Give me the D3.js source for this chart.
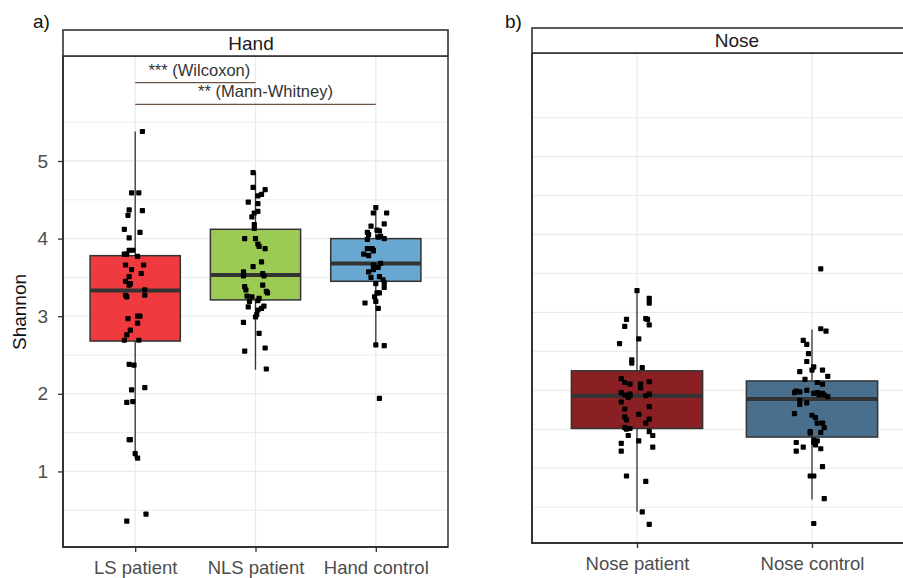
<!DOCTYPE html>
<html>
<head>
<meta charset="utf-8">
<script src="https://cdn.jsdelivr.net/npm/d3@7"></script>
<style>
  body { margin: 0; background: #fff; }
  svg text { font-family: "Liberation Sans", Arial, sans-serif; }
</style>
</head>
<body>
<div id="chart"></div>
<script>
// groups and box statistics: [lower whisker, q1, median, q3, upper whisker]
const handGroups = ["LS patient", "NLS patient", "Hand control"];
const noseGroups = ["Nose patient", "Nose control"];
const handStats = [
  [1.17, 2.68, 3.33, 3.78, 5.38],
  [2.31, 3.21, 3.53, 4.12, 4.86],
  [2.61, 3.45, 3.68, 4.00, 4.41]
];
const noseStats = [
  [0.44, 1.51, 1.93, 2.25, 3.29],
  [0.60, 1.40, 1.89, 2.12, 2.78]
];

// jittered points: [Shannon, jitter (fraction of category step)]
const lsPoints = [[5.38,.06],[4.59,-.03],[4.59,.03],[4.37,-.05],[4.30,-.06],[4.36,.06],[4.12,-.09],[4.01,-.05],
  [4.08,.04],[3.85,-.05],[3.85,-.02],[3.80,-.09],[3.80,-.07],[3.77,.02],[3.66,-.08],[3.66,.07],[3.60,-.03],
  [3.55,.05],[3.51,-.05],[3.45,-.08],[3.42,-.04],[3.40,-.05],[3.34,.08],[3.27,.08],[3.27,-.08],[3.25,-.07],
  [3.00,.02],[3.00,.04],[2.97,-.06],[2.91,.02],[2.82,-.04],[2.76,-.07],[2.69,-.09],[2.69,.03],[2.38,-.05],
  [2.37,-.01],[2.08,.08],[2.05,-.03],[1.89,-.07],[1.90,-.02],[1.41,-.05],[1.41,-.04],[1.23,0],[1.17,.02],
  [0.45,.09],[0.36,-.07]];
const nlsPoints = [[4.85,-.02],[4.66,-.02],[4.63,.08],[4.57,.05],[4.55,.02],[4.47,-.06],[4.45,.02],[4.35,.02],
  [4.33,-.01],[4.28,-.03],[4.18,-.01],[4.13,-.01],[4.00,-.09],[4.00,0],[3.93,.02],[3.90,.03],[3.87,.08],
  [3.70,.05],[3.64,-.02],[3.57,-.10],[3.52,-.10],[3.55,.06],[3.52,.07],[3.40,.06],[3.38,-.09],[3.34,-.08],
  [3.26,-.07],[3.25,-.03],[3.32,.09],[3.30,.10],[3.23,.03],[3.20,.02],[3.19,-.05],[3.12,-.06],[3.13,.07],
  [3.10,.05],[3.08,.02],[3.02,.01],[2.99,0],[2.92,-.10],[2.78,.03],[2.55,-.09],[2.59,.08],[2.32,.09]];
const handCtrlPoints = [[4.40,0],[4.33,.09],[4.33,-.02],[4.19,.07],[4.16,-.04],[4.11,.01],[4.10,.03],[4.08,-.07],
  [4.05,-.06],[4.03,.04],[4.00,.07],[3.99,-.07],[4.02,.02],[3.87,-.07],[3.87,-.03],[3.85,-.02],[3.80,-.10],
  [3.78,-.06],[3.84,-.02],[3.68,.04],[3.66,-.02],[3.63,.02],[3.57,-.06],[3.60,-.02],[3.51,.03],[3.50,-.04],
  [3.47,.06],[3.43,.07],[3.42,0],[3.37,.07],[3.30,.01],[3.30,.03],[3.25,-.01],[3.17,-.09],[3.19,0],[3.10,.02],
  [2.63,0],[2.62,.07],[1.94,.03]];
const nosePatientPoints = [[3.28,0],[3.18,.07],[3.12,.07],[2.91,-.06],[2.82,-.07],[2.92,.05],[2.91,.06],[2.84,.07],
  [2.66,.01],[2.60,-.10],[2.39,-.03],[2.35,-.03],[2.29,.03],[2.15,-.09],[2.10,-.07],[2.08,-.04],[2.08,.02],
  [2.03,.02],[2.11,.07],[1.97,-.09],[1.94,-.07],[1.95,-.04],[1.93,-.04],[1.91,-.05],[1.93,.05],[1.95,.07],
  [1.85,-.09],[1.76,-.07],[1.79,.07],[1.69,.01],[1.66,-.07],[1.62,-.06],[1.58,.05],[1.63,.07],[1.52,-.07],
  [1.50,-.06],[1.51,-.04],[1.47,.07],[1.42,.09],[1.42,-.05],[1.35,.01],[1.32,-.09],[1.22,-.09],[1.27,.09],
  [0.90,-.06],[0.83,.05],[0.44,.03],[0.28,.07]];
const noseControlPoints = [[3.56,.05],[2.79,.05],[2.76,.08],[2.64,-.05],[2.59,-.03],[2.47,-.02],[2.37,-.03],
  [2.30,.01],[2.26,0],[2.24,-.07],[2.26,.06],[2.18,.09],[2.14,-.04],[2.10,.03],[2.08,.06],[1.99,-.09],
  [2.00,-.03],[1.97,-.10],[1.98,-.07],[1.96,.01],[1.97,.03],[1.96,.06],[1.94,.07],[1.92,.09],[1.94,.04],
  [1.82,-.07],[1.87,-.07],[1.84,-.03],[1.70,-.10],[1.68,0],[1.65,.02],[1.58,.03],[1.58,.06],[1.52,.07],
  [1.47,-.01],[1.45,-.01],[1.46,.05],[1.36,.01],[1.35,.03],[1.33,.01],[1.30,.02],[1.33,-.09],[1.22,-.09],
  [1.27,-.05],[1.25,.05],[1.02,.06],[0.90,-.01],[0.90,.01],[0.61,.07],[0.29,.01]];

const yTicks = [1, 2, 3, 4, 5];
const gridValues = [0.5, 1, 1.5, 2, 2.5, 3, 3.5, 4, 4.5, 5, 5.5];
const brackets = [
  {from: "LS patient", to: "NLS patient", y: 6.01, label: "*** (Wilcoxon)", shift: 4},
  {from: "LS patient", to: "Hand control", y: 5.73, label: "** (Mann-Whitney)", shift: 10}
];

const handColors = ["#EF3A40", "#9CCB55", "#67A7D0"];
const noseColors = ["#8B2024", "#4A6F8C"];

const W = 903, H = 578;
const svg = d3.select("#chart").append("svg")
  .attr("width", W).attr("height", H);
svg.append("rect").attr("width", W).attr("height", H).attr("fill", "#fff");

function drawPanel(opt) {
  const x = d3.scalePoint().domain(opt.groups)
    .range([opt.left, opt.right]).padding(0.6);
  const y = d3.scaleLinear().domain(opt.domain).range([opt.bottom, opt.top]);
  const step = x.step();
  const g = svg.append("g");

  // grid
  g.selectAll(".hgrid").data(gridValues).join("line")
    .attr("x1", opt.left).attr("x2", opt.right)
    .attr("y1", d => y(d)).attr("y2", d => y(d))
    .attr("stroke", "#EBEBEB").attr("stroke-width", d => Number.isInteger(d) ? 1.3 : 1);
  g.selectAll(".vgrid").data(opt.groups).join("line")
    .attr("x1", d => x(d)).attr("x2", d => x(d))
    .attr("y1", opt.top).attr("y2", opt.bottom)
    .attr("stroke", "#EBEBEB").attr("stroke-width", 1.3);

  // boxes
  const bw = step * 0.75;
  opt.groups.forEach((grp, i) => {
    const s = opt.stats[i];
    const cx = x(grp);
    g.append("line").attr("x1", cx).attr("x2", cx)
      .attr("y1", y(s[0])).attr("y2", y(s[4]))
      .attr("stroke", "#333").attr("stroke-width", 1.3);
    g.append("rect").attr("x", cx - bw / 2).attr("width", bw)
      .attr("y", y(s[3])).attr("height", y(s[1]) - y(s[3]))
      .attr("fill", opt.colors[i]).attr("stroke", "#333").attr("stroke-width", 1.5);
    g.append("line").attr("x1", cx - bw / 2).attr("x2", cx + bw / 2)
      .attr("y1", y(s[2])).attr("y2", y(s[2]))
      .attr("stroke", "#333").attr("stroke-width", 4);
  });

  // points
  opt.groups.forEach((grp, i) => {
    g.selectAll(null).data(opt.points[i]).join("rect")
      .attr("x", d => x(grp) + d[1] * step - 2.6)
      .attr("y", d => y(d[0]) - 2.6)
      .attr("width", 5.2).attr("height", 5.2).attr("rx", 0.8)
      .attr("fill", "#000");
  });

  // brackets
  (opt.brackets || []).forEach(b => {
    const x1 = x(b.from), x2 = x(b.to);
    g.append("line").attr("x1", x1).attr("x2", x2)
      .attr("y1", y(b.y)).attr("y2", y(b.y))
      .attr("stroke", "#6E5242").attr("stroke-width", 1.4);
    g.append("text").attr("x", (x1 + x2) / 2 + b.shift).attr("y", y(b.y) - 7)
      .attr("text-anchor", "middle").attr("font-size", 16.5)
      .attr("fill", "#333").text(b.label);
  });

  // axes
  const xAxis = g.append("g").attr("transform", `translate(0,${opt.bottom})`)
    .call(d3.axisBottom(x).tickSize(5).tickPadding(9));
  xAxis.select(".domain").remove();
  xAxis.selectAll("line").attr("stroke", "#333").attr("stroke-width", 1.3);
  xAxis.selectAll("text").attr("font-size", 18.5).attr("fill", "#4D4D4D");

  if (opt.showY) {
    const yAxis = g.append("g").attr("transform", `translate(${opt.left},0)`)
      .call(d3.axisLeft(y).tickValues(yTicks).tickFormat(d3.format("d"))
        .tickSize(5).tickPadding(10));
    yAxis.select(".domain").remove();
    yAxis.selectAll("line").attr("stroke", "#333").attr("stroke-width", 1.3);
    yAxis.selectAll("text").attr("font-size", 19).attr("fill", "#4D4D4D");
  }

  // panel border
  g.append("rect").attr("x", opt.left).attr("y", opt.top)
    .attr("width", opt.right - opt.left).attr("height", opt.bottom - opt.top)
    .attr("fill", "none").attr("stroke", "#333").attr("stroke-width", 1.5);
  g.append("path")
    .attr("d", `M${opt.left},${opt.top}V${opt.bottom}H${opt.right}`)
    .attr("fill", "none").attr("stroke", "#333").attr("stroke-width", 2);

  // strip
  g.append("rect").attr("x", opt.left).attr("y", opt.stripTop)
    .attr("width", opt.right - opt.left).attr("height", opt.top - opt.stripTop)
    .attr("fill", "#fff").attr("stroke", "#333").attr("stroke-width", 1.6);
  g.append("text").attr("x", opt.titleX).attr("y", opt.top - 6)
    .attr("text-anchor", "middle").attr("font-size", 19).attr("fill", "#1A1A1A")
    .text(opt.title);

  g.append("text").attr("x", opt.tagX).attr("y", 28)
    .attr("font-size", 19).attr("fill", "#111").text(opt.tag);
}

drawPanel({
  groups: handGroups, stats: handStats, colors: handColors,
  points: [lsPoints, nlsPoints, handCtrlPoints],
  left: 63, right: 448, top: 56, bottom: 547, stripTop: 30,
  domain: [0.026, 6.353], showY: true, brackets: brackets,
  title: "Hand", titleX: 251, tag: "a)", tagX: 33
});

drawPanel({
  groups: noseGroups, stats: noseStats, colors: noseColors,
  points: [nosePatientPoints, noseControlPoints],
  left: 532, right: 917, top: 53, bottom: 543, stripTop: 28,
  domain: [0.04, 6.33], showY: false,
  title: "Nose", titleX: 737, tag: "b)", tagX: 505
});

svg.append("text")
  .attr("transform", "translate(26,312) rotate(-90)")
  .attr("text-anchor", "middle").attr("font-size", 19).attr("fill", "#111")
  .text("Shannon");
</script>
</body>
</html>
